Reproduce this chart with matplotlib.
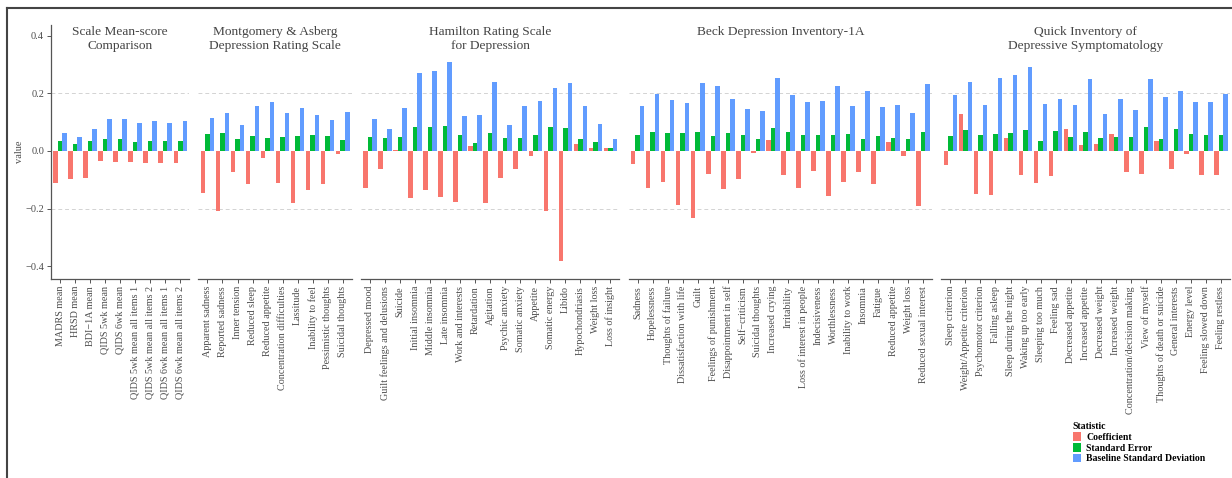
import numpy as np
import matplotlib.pyplot as plt
from matplotlib.patches import Patch
from matplotlib.lines import Line2D

plt.rcParams['font.family'] = ['Liberation Serif', 'DejaVu Serif']

# --- data ---
panel_titles = ['Scale Mean-score\nComparison',
                'Montgomery & Asberg\nDepression Rating Scale',
                'Hamilton Rating Scale\nfor Depression',
                'Beck Depression Inventory-1A',
                'Quick Inventory of\nDepressive Symptomatology']

mean_items = ['MADRS mean', 'HRSD mean', 'BDI\u22121A mean', 'QIDS 5wk mean', 'QIDS 6wk mean',
              'QIDS 5wk mean all items 1', 'QIDS 5wk mean all items 2',
              'QIDS 6wk mean all items 1', 'QIDS 6wk mean all items 2']
mean_coef = [-0.110, -0.098, -0.092, -0.035, -0.038, -0.038, -0.040, -0.041, -0.043]
mean_se = [0.033, 0.024, 0.033, 0.040, 0.041, 0.032, 0.034, 0.034, 0.035]
mean_sd = [0.064, 0.047, 0.076, 0.112, 0.112, 0.098, 0.104, 0.098, 0.104]

madrs_items = ['Apparent sadness', 'Reported sadness', 'Inner tension', 'Reduced sleep',
               'Reduced appetite', 'Concentration difficulties', 'Lassitude',
               'Inability to feel', 'Pessimistic thoughts', 'Suicidal thoughts']
madrs_coef = [-0.145, -0.207, -0.073, -0.113, -0.024, -0.110, -0.179, -0.134, -0.113, -0.010]
madrs_se = [0.059, 0.064, 0.040, 0.052, 0.045, 0.050, 0.052, 0.057, 0.052, 0.037]
madrs_sd = [0.113, 0.133, 0.090, 0.156, 0.169, 0.133, 0.149, 0.124, 0.107, 0.134]

hrsd_items = ['Depressed mood', 'Guilt feelings and delusions', 'Suicide', 'Initial insomnia',
              'Middle insomnia', 'Late insomnia', 'Work and interests', 'Retardation',
              'Agitation', 'Psychic anxiety', 'Somatic anxiety', 'Appetite',
              'Somatic energy', 'Libido', 'Hypochondriasis', 'Weight loss', 'Loss of insight']
hrsd_coef = [-0.129, -0.064, 0.004, -0.162, -0.137, -0.158, -0.178, 0.016, -0.182, -0.092,
             -0.061, -0.016, -0.209, -0.381, 0.025, 0.009, 0.010]
hrsd_se = [0.048, 0.045, 0.048, 0.083, 0.084, 0.087, 0.054, 0.029, 0.064, 0.045,
           0.046, 0.054, 0.083, 0.080, 0.043, 0.032, 0.009]
hrsd_sd = [0.110, 0.075, 0.150, 0.272, 0.277, 0.308, 0.122, 0.125, 0.239, 0.090,
           0.156, 0.173, 0.218, 0.236, 0.155, 0.094, 0.043]

bdi_items = ['Sadness', 'Hopelessness', 'Thoughts of failure', 'Dissatisfaction with life',
             'Guilt', 'Feelings of punishment', 'Disappointment in self', 'Self\u2212criticism',
             'Suicidal thoughts', 'Increased crying', 'Irritability',
             'Loss of interest in people', 'Indecisiveness', 'Worthlessness',
             'Inability to work', 'Insomnia', 'Fatigue', 'Reduced appetite', 'Weight loss',
             'Reduced sexual interest']
bdi_coef = [-0.046, -0.129, -0.106, -0.187, -0.233, -0.081, -0.133, -0.097, -0.007, 0.037,
            -0.085, -0.130, -0.070, -0.157, -0.106, -0.072, -0.113, 0.032, -0.018, -0.192]
bdi_se = [0.057, 0.067, 0.062, 0.064, 0.065, 0.052, 0.061, 0.055, 0.043, 0.081,
          0.067, 0.055, 0.055, 0.054, 0.058, 0.040, 0.052, 0.045, 0.042, 0.065]
bdi_sd = [0.155, 0.196, 0.178, 0.166, 0.237, 0.225, 0.181, 0.145, 0.140, 0.252,
          0.194, 0.170, 0.174, 0.227, 0.156, 0.208, 0.154, 0.160, 0.133, 0.231]

qids_items = ['Sleep criterion', 'Weight/Appetite criterion', 'Psychomotor criterion',
              'Falling asleep', 'Sleep during the night', 'Waking up too early',
              'Sleeping too much', 'Feeling sad', 'Decreased appetite', 'Increased appetite',
              'Decreased weight', 'Increased weight', 'Concentration/decision making',
              'View of myself', 'Thoughts of death or suicide', 'General interests',
              'Energy level', 'Feeling slowed down', 'Feeling restless']
qids_coef = [-0.050, 0.130, -0.150, -0.151, 0.044, -0.083, -0.112, -0.087, 0.075, 0.020,
             0.024, 0.059, -0.072, -0.079, 0.036, -0.062, -0.012, -0.082, -0.084]
qids_se = [0.052, 0.072, 0.055, 0.060, 0.061, 0.073, 0.033, 0.068, 0.048, 0.067,
           0.045, 0.050, 0.050, 0.084, 0.043, 0.075, 0.059, 0.054, 0.054]
qids_sd = [0.194, 0.241, 0.160, 0.254, 0.262, 0.290, 0.162, 0.181, 0.160, 0.248,
           0.128, 0.181, 0.142, 0.249, 0.189, 0.209, 0.170, 0.170, 0.197]

panels = [
    (mean_items, mean_coef, mean_se, mean_sd),
    (madrs_items, madrs_coef, madrs_se, madrs_sd),
    (hrsd_items, hrsd_coef, hrsd_se, hrsd_sd),
    (bdi_items, bdi_coef, bdi_se, bdi_sd),
    (qids_items, qids_coef, qids_se, qids_sd),
]

stat_names = ['Coefficient', 'Standard Error', 'Baseline Standard Deviation']
stat_colors = ['#F8766D', '#00BA38', '#619CFF']

text_col = '#4d4d4d'
axis_col = '#555555'

fig = plt.figure(figsize=(12.32, 4.78), dpi=100)
widths = [len(p[0]) + 0.2 for p in panels]
gs = fig.add_gridspec(1, len(panels), width_ratios=widths,
                      left=51/1232, right=1230/1232, top=1-25/478, bottom=1-279/478,
                      wspace=0.040)

for i, (items, coef, se, sd) in enumerate(panels):
    ax = fig.add_subplot(gs[0, i])
    x = np.arange(len(items))
    for k, vals in enumerate([coef, se, sd]):
        ax.bar(x + (k - 1) * 0.3, vals, width=0.3, color=stat_colors[k], zorder=2)
    for g in (-0.2, 0.2):
        ax.axhline(g, color='#d3d3d3', lw=0.7, ls=(0, (4, 3)), zorder=0)
    ax.set_xlim(-0.6, len(items) - 0.4)
    ax.set_ylim(-0.444, 0.437)
    ax.set_xticks(x)
    ax.set_xticklabels(items, rotation=90, fontsize=7.3, color=text_col)
    ax.tick_params(axis='x', length=3, width=0.7, color=axis_col, pad=2)
    for s in ('top', 'right'):
        ax.spines[s].set_visible(False)
    ax.spines['bottom'].set_color(axis_col)
    ax.spines['bottom'].set_linewidth(0.9)
    if i == 0:
        ax.set_yticks([-0.4, -0.2, 0.0, 0.2, 0.4])
        ax.set_yticklabels(['\u22120.4', '\u22120.2', '0.0', '0.2', '0.4'],
                           fontsize=7.5, color=text_col)
        ax.tick_params(axis='y', length=3, width=0.7, color=axis_col, pad=2)
        ax.spines['left'].set_color(axis_col)
        ax.spines['left'].set_linewidth(0.9)
        ax.set_ylabel('value', fontsize=7.5, color=text_col, labelpad=1)
    else:
        ax.spines['left'].set_visible(False)
        ax.set_yticks([])
    ax.text(0.5, 0.997, panel_titles[i], transform=ax.transAxes, ha='center', va='top',
            fontsize=9.6, color='#444444', linespacing=1.2)

# legend
handles = [Patch(facecolor=c, edgecolor='none') for c in stat_colors]
leg = fig.legend(handles, stat_names, title='Statistic', loc='upper left',
                 bbox_to_anchor=(1069/1232, 1-418/478), frameon=False,
                 handlelength=0.85, handleheight=1.0, handletextpad=0.5,
                 labelspacing=0.12, borderaxespad=0, alignment='left',
                 prop={'size': 7, 'weight': 'bold'},
                 title_fontproperties={'size': 7, 'weight': 'bold'})

# screenshot frame
fig.add_artist(Line2D([7/1232, 1], [1-8/478, 1-8/478], color='#444444', lw=1.5))
fig.add_artist(Line2D([7/1232, 7/1232], [0, 1-8/478], color='#444444', lw=1.5))

fig.savefig('out.png', dpi=100)
